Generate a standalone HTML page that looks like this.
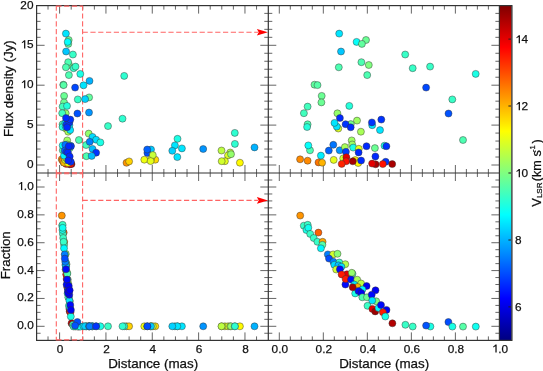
<!DOCTYPE html>
<html><head><meta charset="utf-8"><title>Maser spots</title>
<style>html,body{margin:0;padding:0;background:#fff;}svg{display:block;will-change:transform;}</style>
</head><body>
<svg width="543" height="371" viewBox="0 0 543 371">
<rect width="543" height="371" fill="#fff"/>
<defs><linearGradient id="jet" x1="0" y1="0" x2="0" y2="1"><stop offset="0.0000" stop-color="#800000"/><stop offset="0.0250" stop-color="#990000"/><stop offset="0.0500" stop-color="#b30000"/><stop offset="0.0750" stop-color="#cc0000"/><stop offset="0.1000" stop-color="#e50000"/><stop offset="0.1250" stop-color="#ff0000"/><stop offset="0.1500" stop-color="#ff1a00"/><stop offset="0.1750" stop-color="#ff3300"/><stop offset="0.2000" stop-color="#ff4c00"/><stop offset="0.2250" stop-color="#ff6600"/><stop offset="0.2500" stop-color="#ff8000"/><stop offset="0.2750" stop-color="#ff9900"/><stop offset="0.3000" stop-color="#ffb300"/><stop offset="0.3250" stop-color="#ffcc00"/><stop offset="0.3500" stop-color="#ffe500"/><stop offset="0.3750" stop-color="#ffff00"/><stop offset="0.4000" stop-color="#e5ff1a"/><stop offset="0.4250" stop-color="#ccff33"/><stop offset="0.4500" stop-color="#b3ff4c"/><stop offset="0.4750" stop-color="#99ff66"/><stop offset="0.5000" stop-color="#80ff80"/><stop offset="0.5250" stop-color="#66ff99"/><stop offset="0.5500" stop-color="#4dffb2"/><stop offset="0.5750" stop-color="#33ffcc"/><stop offset="0.6000" stop-color="#1affe5"/><stop offset="0.6250" stop-color="#00ffff"/><stop offset="0.6500" stop-color="#00e5ff"/><stop offset="0.6750" stop-color="#00ccff"/><stop offset="0.7000" stop-color="#00b2ff"/><stop offset="0.7250" stop-color="#0099ff"/><stop offset="0.7500" stop-color="#0080ff"/><stop offset="0.7750" stop-color="#0066ff"/><stop offset="0.8000" stop-color="#004dff"/><stop offset="0.8250" stop-color="#0033ff"/><stop offset="0.8500" stop-color="#001aff"/><stop offset="0.8750" stop-color="#0000ff"/><stop offset="0.9000" stop-color="#0000e6"/><stop offset="0.9250" stop-color="#0000cc"/><stop offset="0.9500" stop-color="#0000b2"/><stop offset="0.9750" stop-color="#000099"/><stop offset="1.0000" stop-color="#000080"/></linearGradient><clipPath id="cTL"><rect x="36.6" y="5.6" width="231.7" height="167.4"/></clipPath><clipPath id="cTR"><rect x="268.3" y="5.6" width="231.1" height="167.4"/></clipPath><clipPath id="cBL"><rect x="36.6" y="173.0" width="231.7" height="167.4"/></clipPath><clipPath id="cBR"><rect x="268.3" y="173.0" width="231.1" height="167.4"/></clipPath></defs>
<g stroke="#666" stroke-width="1"><line x1="48.02" y1="5.60" x2="48.02" y2="9.60"/><line x1="48.02" y1="173.00" x2="48.02" y2="169.00"/><line x1="48.02" y1="173.00" x2="48.02" y2="177.00"/><line x1="48.02" y1="340.40" x2="48.02" y2="336.40"/><line x1="59.60" y1="5.60" x2="59.60" y2="13.60"/><line x1="59.60" y1="173.00" x2="59.60" y2="165.00"/><line x1="59.60" y1="173.00" x2="59.60" y2="181.00"/><line x1="59.60" y1="340.40" x2="59.60" y2="332.40"/><line x1="71.19" y1="5.60" x2="71.19" y2="9.60"/><line x1="71.19" y1="173.00" x2="71.19" y2="169.00"/><line x1="71.19" y1="173.00" x2="71.19" y2="177.00"/><line x1="71.19" y1="340.40" x2="71.19" y2="336.40"/><line x1="82.77" y1="5.60" x2="82.77" y2="9.60"/><line x1="82.77" y1="173.00" x2="82.77" y2="169.00"/><line x1="82.77" y1="173.00" x2="82.77" y2="177.00"/><line x1="82.77" y1="340.40" x2="82.77" y2="336.40"/><line x1="94.36" y1="5.60" x2="94.36" y2="9.60"/><line x1="94.36" y1="173.00" x2="94.36" y2="169.00"/><line x1="94.36" y1="173.00" x2="94.36" y2="177.00"/><line x1="94.36" y1="340.40" x2="94.36" y2="336.40"/><line x1="105.94" y1="5.60" x2="105.94" y2="13.60"/><line x1="105.94" y1="173.00" x2="105.94" y2="165.00"/><line x1="105.94" y1="173.00" x2="105.94" y2="181.00"/><line x1="105.94" y1="340.40" x2="105.94" y2="332.40"/><line x1="117.53" y1="5.60" x2="117.53" y2="9.60"/><line x1="117.53" y1="173.00" x2="117.53" y2="169.00"/><line x1="117.53" y1="173.00" x2="117.53" y2="177.00"/><line x1="117.53" y1="340.40" x2="117.53" y2="336.40"/><line x1="129.11" y1="5.60" x2="129.11" y2="9.60"/><line x1="129.11" y1="173.00" x2="129.11" y2="169.00"/><line x1="129.11" y1="173.00" x2="129.11" y2="177.00"/><line x1="129.11" y1="340.40" x2="129.11" y2="336.40"/><line x1="140.69" y1="5.60" x2="140.69" y2="9.60"/><line x1="140.69" y1="173.00" x2="140.69" y2="169.00"/><line x1="140.69" y1="173.00" x2="140.69" y2="177.00"/><line x1="140.69" y1="340.40" x2="140.69" y2="336.40"/><line x1="152.28" y1="5.60" x2="152.28" y2="13.60"/><line x1="152.28" y1="173.00" x2="152.28" y2="165.00"/><line x1="152.28" y1="173.00" x2="152.28" y2="181.00"/><line x1="152.28" y1="340.40" x2="152.28" y2="332.40"/><line x1="163.87" y1="5.60" x2="163.87" y2="9.60"/><line x1="163.87" y1="173.00" x2="163.87" y2="169.00"/><line x1="163.87" y1="173.00" x2="163.87" y2="177.00"/><line x1="163.87" y1="340.40" x2="163.87" y2="336.40"/><line x1="175.45" y1="5.60" x2="175.45" y2="9.60"/><line x1="175.45" y1="173.00" x2="175.45" y2="169.00"/><line x1="175.45" y1="173.00" x2="175.45" y2="177.00"/><line x1="175.45" y1="340.40" x2="175.45" y2="336.40"/><line x1="187.03" y1="5.60" x2="187.03" y2="9.60"/><line x1="187.03" y1="173.00" x2="187.03" y2="169.00"/><line x1="187.03" y1="173.00" x2="187.03" y2="177.00"/><line x1="187.03" y1="340.40" x2="187.03" y2="336.40"/><line x1="198.62" y1="5.60" x2="198.62" y2="13.60"/><line x1="198.62" y1="173.00" x2="198.62" y2="165.00"/><line x1="198.62" y1="173.00" x2="198.62" y2="181.00"/><line x1="198.62" y1="340.40" x2="198.62" y2="332.40"/><line x1="210.21" y1="5.60" x2="210.21" y2="9.60"/><line x1="210.21" y1="173.00" x2="210.21" y2="169.00"/><line x1="210.21" y1="173.00" x2="210.21" y2="177.00"/><line x1="210.21" y1="340.40" x2="210.21" y2="336.40"/><line x1="221.79" y1="5.60" x2="221.79" y2="9.60"/><line x1="221.79" y1="173.00" x2="221.79" y2="169.00"/><line x1="221.79" y1="173.00" x2="221.79" y2="177.00"/><line x1="221.79" y1="340.40" x2="221.79" y2="336.40"/><line x1="233.38" y1="5.60" x2="233.38" y2="9.60"/><line x1="233.38" y1="173.00" x2="233.38" y2="169.00"/><line x1="233.38" y1="173.00" x2="233.38" y2="177.00"/><line x1="233.38" y1="340.40" x2="233.38" y2="336.40"/><line x1="244.96" y1="5.60" x2="244.96" y2="13.60"/><line x1="244.96" y1="173.00" x2="244.96" y2="165.00"/><line x1="244.96" y1="173.00" x2="244.96" y2="181.00"/><line x1="244.96" y1="340.40" x2="244.96" y2="332.40"/><line x1="256.55" y1="5.60" x2="256.55" y2="9.60"/><line x1="256.55" y1="173.00" x2="256.55" y2="169.00"/><line x1="256.55" y1="173.00" x2="256.55" y2="177.00"/><line x1="256.55" y1="340.40" x2="256.55" y2="336.40"/><line x1="279.30" y1="5.60" x2="279.30" y2="13.60"/><line x1="279.30" y1="173.00" x2="279.30" y2="165.00"/><line x1="279.30" y1="173.00" x2="279.30" y2="181.00"/><line x1="279.30" y1="340.40" x2="279.30" y2="332.40"/><line x1="290.31" y1="5.60" x2="290.31" y2="9.60"/><line x1="290.31" y1="173.00" x2="290.31" y2="169.00"/><line x1="290.31" y1="173.00" x2="290.31" y2="177.00"/><line x1="290.31" y1="340.40" x2="290.31" y2="336.40"/><line x1="301.31" y1="5.60" x2="301.31" y2="9.60"/><line x1="301.31" y1="173.00" x2="301.31" y2="169.00"/><line x1="301.31" y1="173.00" x2="301.31" y2="177.00"/><line x1="301.31" y1="340.40" x2="301.31" y2="336.40"/><line x1="312.31" y1="5.60" x2="312.31" y2="9.60"/><line x1="312.31" y1="173.00" x2="312.31" y2="169.00"/><line x1="312.31" y1="173.00" x2="312.31" y2="177.00"/><line x1="312.31" y1="340.40" x2="312.31" y2="336.40"/><line x1="323.32" y1="5.60" x2="323.32" y2="13.60"/><line x1="323.32" y1="173.00" x2="323.32" y2="165.00"/><line x1="323.32" y1="173.00" x2="323.32" y2="181.00"/><line x1="323.32" y1="340.40" x2="323.32" y2="332.40"/><line x1="334.32" y1="5.60" x2="334.32" y2="9.60"/><line x1="334.32" y1="173.00" x2="334.32" y2="169.00"/><line x1="334.32" y1="173.00" x2="334.32" y2="177.00"/><line x1="334.32" y1="340.40" x2="334.32" y2="336.40"/><line x1="345.33" y1="5.60" x2="345.33" y2="9.60"/><line x1="345.33" y1="173.00" x2="345.33" y2="169.00"/><line x1="345.33" y1="173.00" x2="345.33" y2="177.00"/><line x1="345.33" y1="340.40" x2="345.33" y2="336.40"/><line x1="356.34" y1="5.60" x2="356.34" y2="9.60"/><line x1="356.34" y1="173.00" x2="356.34" y2="169.00"/><line x1="356.34" y1="173.00" x2="356.34" y2="177.00"/><line x1="356.34" y1="340.40" x2="356.34" y2="336.40"/><line x1="367.34" y1="5.60" x2="367.34" y2="13.60"/><line x1="367.34" y1="173.00" x2="367.34" y2="165.00"/><line x1="367.34" y1="173.00" x2="367.34" y2="181.00"/><line x1="367.34" y1="340.40" x2="367.34" y2="332.40"/><line x1="378.35" y1="5.60" x2="378.35" y2="9.60"/><line x1="378.35" y1="173.00" x2="378.35" y2="169.00"/><line x1="378.35" y1="173.00" x2="378.35" y2="177.00"/><line x1="378.35" y1="340.40" x2="378.35" y2="336.40"/><line x1="389.35" y1="5.60" x2="389.35" y2="9.60"/><line x1="389.35" y1="173.00" x2="389.35" y2="169.00"/><line x1="389.35" y1="173.00" x2="389.35" y2="177.00"/><line x1="389.35" y1="340.40" x2="389.35" y2="336.40"/><line x1="400.36" y1="5.60" x2="400.36" y2="9.60"/><line x1="400.36" y1="173.00" x2="400.36" y2="169.00"/><line x1="400.36" y1="173.00" x2="400.36" y2="177.00"/><line x1="400.36" y1="340.40" x2="400.36" y2="336.40"/><line x1="411.36" y1="5.60" x2="411.36" y2="13.60"/><line x1="411.36" y1="173.00" x2="411.36" y2="165.00"/><line x1="411.36" y1="173.00" x2="411.36" y2="181.00"/><line x1="411.36" y1="340.40" x2="411.36" y2="332.40"/><line x1="422.37" y1="5.60" x2="422.37" y2="9.60"/><line x1="422.37" y1="173.00" x2="422.37" y2="169.00"/><line x1="422.37" y1="173.00" x2="422.37" y2="177.00"/><line x1="422.37" y1="340.40" x2="422.37" y2="336.40"/><line x1="433.37" y1="5.60" x2="433.37" y2="9.60"/><line x1="433.37" y1="173.00" x2="433.37" y2="169.00"/><line x1="433.37" y1="173.00" x2="433.37" y2="177.00"/><line x1="433.37" y1="340.40" x2="433.37" y2="336.40"/><line x1="444.38" y1="5.60" x2="444.38" y2="9.60"/><line x1="444.38" y1="173.00" x2="444.38" y2="169.00"/><line x1="444.38" y1="173.00" x2="444.38" y2="177.00"/><line x1="444.38" y1="340.40" x2="444.38" y2="336.40"/><line x1="455.38" y1="5.60" x2="455.38" y2="13.60"/><line x1="455.38" y1="173.00" x2="455.38" y2="165.00"/><line x1="455.38" y1="173.00" x2="455.38" y2="181.00"/><line x1="455.38" y1="340.40" x2="455.38" y2="332.40"/><line x1="466.38" y1="5.60" x2="466.38" y2="9.60"/><line x1="466.38" y1="173.00" x2="466.38" y2="169.00"/><line x1="466.38" y1="173.00" x2="466.38" y2="177.00"/><line x1="466.38" y1="340.40" x2="466.38" y2="336.40"/><line x1="477.39" y1="5.60" x2="477.39" y2="9.60"/><line x1="477.39" y1="173.00" x2="477.39" y2="169.00"/><line x1="477.39" y1="173.00" x2="477.39" y2="177.00"/><line x1="477.39" y1="340.40" x2="477.39" y2="336.40"/><line x1="488.39" y1="5.60" x2="488.39" y2="9.60"/><line x1="488.39" y1="173.00" x2="488.39" y2="169.00"/><line x1="488.39" y1="173.00" x2="488.39" y2="177.00"/><line x1="488.39" y1="340.40" x2="488.39" y2="336.40"/><line x1="36.60" y1="165.00" x2="44.60" y2="165.00"/><line x1="268.30" y1="165.00" x2="260.30" y2="165.00"/><line x1="268.30" y1="165.00" x2="276.30" y2="165.00"/><line x1="499.40" y1="165.00" x2="491.40" y2="165.00"/><line x1="36.60" y1="157.02" x2="40.60" y2="157.02"/><line x1="268.30" y1="157.02" x2="264.30" y2="157.02"/><line x1="268.30" y1="157.02" x2="272.30" y2="157.02"/><line x1="499.40" y1="157.02" x2="495.40" y2="157.02"/><line x1="36.60" y1="149.04" x2="40.60" y2="149.04"/><line x1="268.30" y1="149.04" x2="264.30" y2="149.04"/><line x1="268.30" y1="149.04" x2="272.30" y2="149.04"/><line x1="499.40" y1="149.04" x2="495.40" y2="149.04"/><line x1="36.60" y1="141.06" x2="40.60" y2="141.06"/><line x1="268.30" y1="141.06" x2="264.30" y2="141.06"/><line x1="268.30" y1="141.06" x2="272.30" y2="141.06"/><line x1="499.40" y1="141.06" x2="495.40" y2="141.06"/><line x1="36.60" y1="133.08" x2="40.60" y2="133.08"/><line x1="268.30" y1="133.08" x2="264.30" y2="133.08"/><line x1="268.30" y1="133.08" x2="272.30" y2="133.08"/><line x1="499.40" y1="133.08" x2="495.40" y2="133.08"/><line x1="36.60" y1="125.10" x2="44.60" y2="125.10"/><line x1="268.30" y1="125.10" x2="260.30" y2="125.10"/><line x1="268.30" y1="125.10" x2="276.30" y2="125.10"/><line x1="499.40" y1="125.10" x2="491.40" y2="125.10"/><line x1="36.60" y1="117.12" x2="40.60" y2="117.12"/><line x1="268.30" y1="117.12" x2="264.30" y2="117.12"/><line x1="268.30" y1="117.12" x2="272.30" y2="117.12"/><line x1="499.40" y1="117.12" x2="495.40" y2="117.12"/><line x1="36.60" y1="109.14" x2="40.60" y2="109.14"/><line x1="268.30" y1="109.14" x2="264.30" y2="109.14"/><line x1="268.30" y1="109.14" x2="272.30" y2="109.14"/><line x1="499.40" y1="109.14" x2="495.40" y2="109.14"/><line x1="36.60" y1="101.16" x2="40.60" y2="101.16"/><line x1="268.30" y1="101.16" x2="264.30" y2="101.16"/><line x1="268.30" y1="101.16" x2="272.30" y2="101.16"/><line x1="499.40" y1="101.16" x2="495.40" y2="101.16"/><line x1="36.60" y1="93.18" x2="40.60" y2="93.18"/><line x1="268.30" y1="93.18" x2="264.30" y2="93.18"/><line x1="268.30" y1="93.18" x2="272.30" y2="93.18"/><line x1="499.40" y1="93.18" x2="495.40" y2="93.18"/><line x1="36.60" y1="85.20" x2="44.60" y2="85.20"/><line x1="268.30" y1="85.20" x2="260.30" y2="85.20"/><line x1="268.30" y1="85.20" x2="276.30" y2="85.20"/><line x1="499.40" y1="85.20" x2="491.40" y2="85.20"/><line x1="36.60" y1="77.22" x2="40.60" y2="77.22"/><line x1="268.30" y1="77.22" x2="264.30" y2="77.22"/><line x1="268.30" y1="77.22" x2="272.30" y2="77.22"/><line x1="499.40" y1="77.22" x2="495.40" y2="77.22"/><line x1="36.60" y1="69.24" x2="40.60" y2="69.24"/><line x1="268.30" y1="69.24" x2="264.30" y2="69.24"/><line x1="268.30" y1="69.24" x2="272.30" y2="69.24"/><line x1="499.40" y1="69.24" x2="495.40" y2="69.24"/><line x1="36.60" y1="61.26" x2="40.60" y2="61.26"/><line x1="268.30" y1="61.26" x2="264.30" y2="61.26"/><line x1="268.30" y1="61.26" x2="272.30" y2="61.26"/><line x1="499.40" y1="61.26" x2="495.40" y2="61.26"/><line x1="36.60" y1="53.28" x2="40.60" y2="53.28"/><line x1="268.30" y1="53.28" x2="264.30" y2="53.28"/><line x1="268.30" y1="53.28" x2="272.30" y2="53.28"/><line x1="499.40" y1="53.28" x2="495.40" y2="53.28"/><line x1="36.60" y1="45.30" x2="44.60" y2="45.30"/><line x1="268.30" y1="45.30" x2="260.30" y2="45.30"/><line x1="268.30" y1="45.30" x2="276.30" y2="45.30"/><line x1="499.40" y1="45.30" x2="491.40" y2="45.30"/><line x1="36.60" y1="37.32" x2="40.60" y2="37.32"/><line x1="268.30" y1="37.32" x2="264.30" y2="37.32"/><line x1="268.30" y1="37.32" x2="272.30" y2="37.32"/><line x1="499.40" y1="37.32" x2="495.40" y2="37.32"/><line x1="36.60" y1="29.34" x2="40.60" y2="29.34"/><line x1="268.30" y1="29.34" x2="264.30" y2="29.34"/><line x1="268.30" y1="29.34" x2="272.30" y2="29.34"/><line x1="499.40" y1="29.34" x2="495.40" y2="29.34"/><line x1="36.60" y1="21.36" x2="40.60" y2="21.36"/><line x1="268.30" y1="21.36" x2="264.30" y2="21.36"/><line x1="268.30" y1="21.36" x2="272.30" y2="21.36"/><line x1="499.40" y1="21.36" x2="495.40" y2="21.36"/><line x1="36.60" y1="13.38" x2="40.60" y2="13.38"/><line x1="268.30" y1="13.38" x2="264.30" y2="13.38"/><line x1="268.30" y1="13.38" x2="272.30" y2="13.38"/><line x1="499.40" y1="13.38" x2="495.40" y2="13.38"/><line x1="36.60" y1="333.26" x2="40.60" y2="333.26"/><line x1="268.30" y1="333.26" x2="264.30" y2="333.26"/><line x1="268.30" y1="333.26" x2="272.30" y2="333.26"/><line x1="499.40" y1="333.26" x2="495.40" y2="333.26"/><line x1="36.60" y1="326.30" x2="44.60" y2="326.30"/><line x1="268.30" y1="326.30" x2="260.30" y2="326.30"/><line x1="268.30" y1="326.30" x2="276.30" y2="326.30"/><line x1="499.40" y1="326.30" x2="491.40" y2="326.30"/><line x1="36.60" y1="319.34" x2="40.60" y2="319.34"/><line x1="268.30" y1="319.34" x2="264.30" y2="319.34"/><line x1="268.30" y1="319.34" x2="272.30" y2="319.34"/><line x1="499.40" y1="319.34" x2="495.40" y2="319.34"/><line x1="36.60" y1="312.37" x2="40.60" y2="312.37"/><line x1="268.30" y1="312.37" x2="264.30" y2="312.37"/><line x1="268.30" y1="312.37" x2="272.30" y2="312.37"/><line x1="499.40" y1="312.37" x2="495.40" y2="312.37"/><line x1="36.60" y1="305.41" x2="40.60" y2="305.41"/><line x1="268.30" y1="305.41" x2="264.30" y2="305.41"/><line x1="268.30" y1="305.41" x2="272.30" y2="305.41"/><line x1="499.40" y1="305.41" x2="495.40" y2="305.41"/><line x1="36.60" y1="298.44" x2="44.60" y2="298.44"/><line x1="268.30" y1="298.44" x2="260.30" y2="298.44"/><line x1="268.30" y1="298.44" x2="276.30" y2="298.44"/><line x1="499.40" y1="298.44" x2="491.40" y2="298.44"/><line x1="36.60" y1="291.48" x2="40.60" y2="291.48"/><line x1="268.30" y1="291.48" x2="264.30" y2="291.48"/><line x1="268.30" y1="291.48" x2="272.30" y2="291.48"/><line x1="499.40" y1="291.48" x2="495.40" y2="291.48"/><line x1="36.60" y1="284.51" x2="40.60" y2="284.51"/><line x1="268.30" y1="284.51" x2="264.30" y2="284.51"/><line x1="268.30" y1="284.51" x2="272.30" y2="284.51"/><line x1="499.40" y1="284.51" x2="495.40" y2="284.51"/><line x1="36.60" y1="277.55" x2="40.60" y2="277.55"/><line x1="268.30" y1="277.55" x2="264.30" y2="277.55"/><line x1="268.30" y1="277.55" x2="272.30" y2="277.55"/><line x1="499.40" y1="277.55" x2="495.40" y2="277.55"/><line x1="36.60" y1="270.58" x2="44.60" y2="270.58"/><line x1="268.30" y1="270.58" x2="260.30" y2="270.58"/><line x1="268.30" y1="270.58" x2="276.30" y2="270.58"/><line x1="499.40" y1="270.58" x2="491.40" y2="270.58"/><line x1="36.60" y1="263.62" x2="40.60" y2="263.62"/><line x1="268.30" y1="263.62" x2="264.30" y2="263.62"/><line x1="268.30" y1="263.62" x2="272.30" y2="263.62"/><line x1="499.40" y1="263.62" x2="495.40" y2="263.62"/><line x1="36.60" y1="256.65" x2="40.60" y2="256.65"/><line x1="268.30" y1="256.65" x2="264.30" y2="256.65"/><line x1="268.30" y1="256.65" x2="272.30" y2="256.65"/><line x1="499.40" y1="256.65" x2="495.40" y2="256.65"/><line x1="36.60" y1="249.69" x2="40.60" y2="249.69"/><line x1="268.30" y1="249.69" x2="264.30" y2="249.69"/><line x1="268.30" y1="249.69" x2="272.30" y2="249.69"/><line x1="499.40" y1="249.69" x2="495.40" y2="249.69"/><line x1="36.60" y1="242.72" x2="44.60" y2="242.72"/><line x1="268.30" y1="242.72" x2="260.30" y2="242.72"/><line x1="268.30" y1="242.72" x2="276.30" y2="242.72"/><line x1="499.40" y1="242.72" x2="491.40" y2="242.72"/><line x1="36.60" y1="235.75" x2="40.60" y2="235.75"/><line x1="268.30" y1="235.75" x2="264.30" y2="235.75"/><line x1="268.30" y1="235.75" x2="272.30" y2="235.75"/><line x1="499.40" y1="235.75" x2="495.40" y2="235.75"/><line x1="36.60" y1="228.79" x2="40.60" y2="228.79"/><line x1="268.30" y1="228.79" x2="264.30" y2="228.79"/><line x1="268.30" y1="228.79" x2="272.30" y2="228.79"/><line x1="499.40" y1="228.79" x2="495.40" y2="228.79"/><line x1="36.60" y1="221.82" x2="40.60" y2="221.82"/><line x1="268.30" y1="221.82" x2="264.30" y2="221.82"/><line x1="268.30" y1="221.82" x2="272.30" y2="221.82"/><line x1="499.40" y1="221.82" x2="495.40" y2="221.82"/><line x1="36.60" y1="214.86" x2="44.60" y2="214.86"/><line x1="268.30" y1="214.86" x2="260.30" y2="214.86"/><line x1="268.30" y1="214.86" x2="276.30" y2="214.86"/><line x1="499.40" y1="214.86" x2="491.40" y2="214.86"/><line x1="36.60" y1="207.89" x2="40.60" y2="207.89"/><line x1="268.30" y1="207.89" x2="264.30" y2="207.89"/><line x1="268.30" y1="207.89" x2="272.30" y2="207.89"/><line x1="499.40" y1="207.89" x2="495.40" y2="207.89"/><line x1="36.60" y1="200.93" x2="40.60" y2="200.93"/><line x1="268.30" y1="200.93" x2="264.30" y2="200.93"/><line x1="268.30" y1="200.93" x2="272.30" y2="200.93"/><line x1="499.40" y1="200.93" x2="495.40" y2="200.93"/><line x1="36.60" y1="193.97" x2="40.60" y2="193.97"/><line x1="268.30" y1="193.97" x2="264.30" y2="193.97"/><line x1="268.30" y1="193.97" x2="272.30" y2="193.97"/><line x1="499.40" y1="193.97" x2="495.40" y2="193.97"/><line x1="36.60" y1="187.00" x2="44.60" y2="187.00"/><line x1="268.30" y1="187.00" x2="260.30" y2="187.00"/><line x1="268.30" y1="187.00" x2="276.30" y2="187.00"/><line x1="499.40" y1="187.00" x2="491.40" y2="187.00"/><line x1="36.60" y1="180.03" x2="40.60" y2="180.03"/><line x1="268.30" y1="180.03" x2="264.30" y2="180.03"/><line x1="268.30" y1="180.03" x2="272.30" y2="180.03"/><line x1="499.40" y1="180.03" x2="495.40" y2="180.03"/></g>
<rect x="499.4" y="5.6" width="12.5" height="334.8" fill="url(#jet)"/><g stroke="#222" stroke-width="1"><line x1="508.4" y1="306.9" x2="511.0" y2="306.9"/><line x1="508.4" y1="240.0" x2="511.0" y2="240.0"/><line x1="508.4" y1="173.0" x2="511.0" y2="173.0"/><line x1="508.4" y1="106.0" x2="511.0" y2="106.0"/><line x1="508.4" y1="39.1" x2="511.0" y2="39.1"/></g><line x1="511.9" y1="5.6" x2="511.9" y2="340.4" stroke="#bbb" stroke-width="0.8"/>
<g stroke="#333" stroke-width="1.2" fill="none">
<rect x="36.6" y="5.6" width="475.3" height="334.8"/>
<line x1="268.3" y1="5.6" x2="268.3" y2="340.4"/>
<line x1="36.6" y1="173.0" x2="499.4" y2="173.0"/>
<line x1="499.4" y1="5.6" x2="499.4" y2="340.4"/>
</g>
<path d="M56.3,5.6 L56.3,173.0 M56.3,6.1 L82.6,6.1 M82.6,5.6 L82.6,173.0 M56.3,172.8 L82.6,172.8" stroke="#ff6464" stroke-width="1.1" stroke-dasharray="5.2,2.6" fill="none"/><path d="M56.3,173.0 L56.3,340.4 M82.6,173.0 L82.6,340.4 M56.3,339.9 L82.6,339.9 M56.3,173.8 L82.6,173.8" stroke="#ff6464" stroke-width="1.1" stroke-dasharray="5.2,2.6" fill="none"/><path d="M82.6,32.3 L258,32.3" stroke="#ff6464" stroke-width="1.1" stroke-dasharray="5.2,2.6" fill="none"/><path d="M82.6,200.4 L258,200.4" stroke="#ff6464" stroke-width="1.1" stroke-dasharray="5.2,2.6" fill="none"/><path d="M256.9,29.0 L267.9,32.3 L256.9,35.6 L258.7,32.3 Z" fill="#ff0000"/><path d="M256.9,197.1 L267.9,200.4 L256.9,203.7 L258.7,200.4 Z" fill="#ff0000"/>
<g clip-path="url(#cTL)" stroke="#333" stroke-opacity="0.75" stroke-width="0.6"><circle cx="67.3" cy="161.3" r="3.50" fill="#a80000"/><circle cx="69.7" cy="164.3" r="3.50" fill="#a80000"/><circle cx="71.5" cy="164.1" r="3.50" fill="#a80000"/><circle cx="66.7" cy="157.2" r="3.50" fill="#e50000"/><circle cx="69.4" cy="163.6" r="3.50" fill="#e50000"/><circle cx="66.6" cy="161.3" r="3.50" fill="#ff0f00"/><circle cx="70.5" cy="164.1" r="3.50" fill="#ff0f00"/><circle cx="66.2" cy="163.9" r="3.50" fill="#ff2400"/><circle cx="63.7" cy="162.4" r="3.50" fill="#ff7500"/><circle cx="61.8" cy="159.3" r="3.50" fill="#ff8a00"/><circle cx="62.6" cy="160.7" r="3.50" fill="#ff8a00"/><circle cx="64.1" cy="162.7" r="3.50" fill="#ffb300"/><circle cx="67.6" cy="160.1" r="3.50" fill="#fff000"/><circle cx="67.9" cy="163.0" r="3.50" fill="#fffa00"/><circle cx="68.0" cy="148.8" r="3.50" fill="#e5ff1a"/><circle cx="65.3" cy="159.9" r="3.50" fill="#e5ff1a"/><circle cx="65.8" cy="128.5" r="3.50" fill="#dbff24"/><circle cx="66.3" cy="158.4" r="3.50" fill="#d1ff2e"/><circle cx="68.2" cy="131.7" r="3.50" fill="#a8ff57"/><circle cx="66.5" cy="147.1" r="3.50" fill="#a8ff57"/><circle cx="67.8" cy="120.6" r="3.50" fill="#9eff61"/><circle cx="67.2" cy="140.4" r="3.50" fill="#9eff61"/><circle cx="67.3" cy="144.5" r="3.50" fill="#9eff61"/><circle cx="65.7" cy="113.3" r="3.50" fill="#94ff6b"/><circle cx="69.0" cy="65.0" r="3.50" fill="#80ff80"/><circle cx="67.1" cy="124.1" r="3.50" fill="#75ff8a"/><circle cx="68.7" cy="40.0" r="3.50" fill="#6bff94"/><circle cx="64.1" cy="95.9" r="3.50" fill="#6bff94"/><circle cx="64.0" cy="102.4" r="3.50" fill="#6bff94"/><circle cx="69.7" cy="148.1" r="3.50" fill="#6bff94"/><circle cx="68.3" cy="43.9" r="3.50" fill="#61ff9e"/><circle cx="63.3" cy="84.7" r="3.50" fill="#61ff9e"/><circle cx="63.6" cy="85.1" r="3.50" fill="#57ffa8"/><circle cx="68.2" cy="62.2" r="3.50" fill="#4dffb2"/><circle cx="65.9" cy="67.3" r="3.50" fill="#4dffb2"/><circle cx="68.9" cy="75.1" r="3.50" fill="#4dffb2"/><circle cx="78.9" cy="140.0" r="3.50" fill="#4dffb2"/><circle cx="62.6" cy="124.3" r="3.50" fill="#4dffb2"/><circle cx="62.8" cy="150.3" r="3.50" fill="#4dffb2"/><circle cx="62.6" cy="106.6" r="3.50" fill="#42ffbd"/><circle cx="62.2" cy="113.2" r="3.50" fill="#42ffbd"/><circle cx="72.9" cy="54.5" r="3.50" fill="#38ffc7"/><circle cx="73.6" cy="68.2" r="3.50" fill="#38ffc7"/><circle cx="75.5" cy="66.6" r="3.50" fill="#38ffc7"/><circle cx="77.8" cy="99.4" r="3.50" fill="#38ffc7"/><circle cx="67.0" cy="105.9" r="3.50" fill="#24ffdb"/><circle cx="62.5" cy="127.0" r="3.50" fill="#24ffdb"/><circle cx="80.3" cy="73.9" r="3.50" fill="#1affe5"/><circle cx="67.4" cy="147.6" r="3.50" fill="#1affe5"/><circle cx="70.7" cy="145.7" r="3.50" fill="#1affe5"/><circle cx="67.7" cy="41.9" r="3.50" fill="#05fffa"/><circle cx="62.7" cy="145.4" r="3.50" fill="#05fffa"/><circle cx="64.0" cy="155.6" r="3.50" fill="#00f0ff"/><circle cx="65.9" cy="33.6" r="3.50" fill="#00e5ff"/><circle cx="65.7" cy="126.6" r="3.50" fill="#00e5ff"/><circle cx="65.4" cy="122.9" r="3.50" fill="#00e5ff"/><circle cx="69.4" cy="125.2" r="3.50" fill="#00e5ff"/><circle cx="70.2" cy="130.1" r="3.50" fill="#00e5ff"/><circle cx="66.1" cy="51.5" r="3.50" fill="#00c7ff"/><circle cx="66.0" cy="150.3" r="3.50" fill="#0094ff"/><circle cx="65.3" cy="144.8" r="3.50" fill="#0075ff"/><circle cx="64.8" cy="150.6" r="3.50" fill="#0061ff"/><circle cx="77.4" cy="113.5" r="3.50" fill="#0052ff"/><circle cx="75.1" cy="87.6" r="3.50" fill="#0047ff"/><circle cx="66.6" cy="151.8" r="3.50" fill="#003dff"/><circle cx="66.6" cy="124.2" r="3.50" fill="#0033ff"/><circle cx="69.3" cy="122.4" r="3.50" fill="#0033ff"/><circle cx="70.3" cy="119.6" r="3.50" fill="#0033ff"/><circle cx="70.9" cy="146.2" r="3.50" fill="#0033ff"/><circle cx="70.8" cy="161.8" r="3.50" fill="#0033ff"/><circle cx="66.0" cy="118.0" r="3.50" fill="#0029ff"/><circle cx="67.1" cy="127.3" r="3.50" fill="#0029ff"/><circle cx="67.9" cy="152.4" r="3.50" fill="#0029ff"/><circle cx="68.8" cy="146.2" r="3.50" fill="#0029ff"/><circle cx="69.7" cy="156.4" r="3.50" fill="#0029ff"/><circle cx="68.2" cy="160.5" r="3.50" fill="#0029ff"/><circle cx="124.2" cy="75.9" r="3.50" fill="#2effd1"/><circle cx="89.5" cy="80.9" r="3.50" fill="#00b2ff"/><circle cx="83.5" cy="85.3" r="3.50" fill="#00e5ff"/><circle cx="89.1" cy="97.4" r="3.50" fill="#61ff9e"/><circle cx="85.1" cy="99.1" r="3.50" fill="#00d1ff"/><circle cx="89.0" cy="112.5" r="3.50" fill="#0094ff"/><circle cx="108.0" cy="126.1" r="3.50" fill="#38ffc7"/><circle cx="122.5" cy="118.7" r="3.50" fill="#2effd1"/><circle cx="88.7" cy="133.6" r="3.50" fill="#94ff6b"/><circle cx="92.5" cy="136.9" r="3.50" fill="#00dbff"/><circle cx="96.1" cy="139.7" r="3.50" fill="#00dbff"/><circle cx="100.4" cy="142.4" r="3.50" fill="#1affe5"/><circle cx="86.1" cy="145.0" r="3.50" fill="#42ffbd"/><circle cx="89.7" cy="141.8" r="3.50" fill="#0080ff"/><circle cx="86.4" cy="156.2" r="3.50" fill="#4dffb2"/><circle cx="92.5" cy="148.9" r="3.50" fill="#00bdff"/><circle cx="96.1" cy="152.7" r="3.50" fill="#0033ff"/><circle cx="91.7" cy="155.9" r="3.50" fill="#00bdff"/><circle cx="126.5" cy="162.8" r="3.50" fill="#ff9400"/><circle cx="129.1" cy="161.4" r="3.50" fill="#ffd100"/><circle cx="151.0" cy="149.5" r="3.50" fill="#00c7ff"/><circle cx="147.4" cy="152.9" r="3.50" fill="#004dff"/><circle cx="147.2" cy="149.5" r="3.50" fill="#0061ff"/><circle cx="155.3" cy="159.7" r="3.50" fill="#ffdb00"/><circle cx="151.0" cy="159.0" r="3.50" fill="#e5ff1a"/><circle cx="152.8" cy="155.1" r="3.50" fill="#c7ff38"/><circle cx="144.3" cy="159.7" r="3.50" fill="#f0ff0f"/><circle cx="150.6" cy="161.1" r="3.50" fill="#e5ff1a"/><circle cx="177.5" cy="138.8" r="3.50" fill="#1affe5"/><circle cx="174.9" cy="145.4" r="3.50" fill="#00e5ff"/><circle cx="181.9" cy="148.4" r="3.50" fill="#00e5ff"/><circle cx="172.3" cy="150.8" r="3.50" fill="#00d1ff"/><circle cx="177.3" cy="157.1" r="3.50" fill="#00e5ff"/><circle cx="203.2" cy="149.0" r="3.50" fill="#0094ff"/><circle cx="234.8" cy="132.9" r="3.50" fill="#2effd1"/><circle cx="254.5" cy="147.4" r="3.50" fill="#00b2ff"/><circle cx="221.5" cy="150.5" r="3.50" fill="#bdff42"/><circle cx="230.2" cy="152.5" r="3.50" fill="#bdff42"/><circle cx="228.0" cy="155.4" r="3.50" fill="#dbff24"/><circle cx="231.0" cy="154.2" r="3.50" fill="#94ff6b"/><circle cx="224.9" cy="161.2" r="3.50" fill="#e5ff1a"/><circle cx="221.7" cy="161.2" r="3.50" fill="#d1ff2e"/><circle cx="234.9" cy="143.9" r="3.50" fill="#2effd1"/><circle cx="239.9" cy="162.7" r="3.50" fill="#fffa00"/></g>
<g clip-path="url(#cTR)" stroke="#333" stroke-opacity="0.75" stroke-width="0.6"><circle cx="339.2" cy="33.6" r="3.50" fill="#00e5ff"/><circle cx="356.6" cy="41.9" r="3.50" fill="#05fffa"/><circle cx="366.0" cy="40.0" r="3.50" fill="#6bff94"/><circle cx="361.9" cy="43.9" r="3.50" fill="#61ff9e"/><circle cx="341.0" cy="51.5" r="3.50" fill="#00c7ff"/><circle cx="361.4" cy="62.2" r="3.50" fill="#4dffb2"/><circle cx="368.8" cy="65.0" r="3.50" fill="#80ff80"/><circle cx="338.8" cy="67.3" r="3.50" fill="#4dffb2"/><circle cx="367.2" cy="75.1" r="3.50" fill="#4dffb2"/><circle cx="314.5" cy="84.7" r="3.50" fill="#61ff9e"/><circle cx="317.5" cy="85.1" r="3.50" fill="#57ffa8"/><circle cx="405.2" cy="54.5" r="3.50" fill="#38ffc7"/><circle cx="412.7" cy="68.2" r="3.50" fill="#38ffc7"/><circle cx="430.1" cy="66.6" r="3.50" fill="#38ffc7"/><circle cx="475.7" cy="73.9" r="3.50" fill="#1affe5"/><circle cx="426.1" cy="87.6" r="3.50" fill="#0047ff"/><circle cx="452.3" cy="99.4" r="3.50" fill="#38ffc7"/><circle cx="448.5" cy="113.5" r="3.50" fill="#0052ff"/><circle cx="463.0" cy="140.0" r="3.50" fill="#4dffb2"/><circle cx="321.7" cy="95.9" r="3.50" fill="#6bff94"/><circle cx="321.4" cy="102.4" r="3.50" fill="#6bff94"/><circle cx="307.6" cy="106.6" r="3.50" fill="#42ffbd"/><circle cx="303.9" cy="113.2" r="3.50" fill="#42ffbd"/><circle cx="349.3" cy="105.9" r="3.50" fill="#24ffdb"/><circle cx="337.4" cy="113.3" r="3.50" fill="#94ff6b"/><circle cx="339.9" cy="118.0" r="3.50" fill="#0029ff"/><circle cx="357.0" cy="120.6" r="3.50" fill="#9eff61"/><circle cx="307.6" cy="124.3" r="3.50" fill="#4dffb2"/><circle cx="307.1" cy="127.0" r="3.50" fill="#24ffdb"/><circle cx="338.3" cy="128.5" r="3.50" fill="#dbff24"/><circle cx="336.8" cy="126.6" r="3.50" fill="#00e5ff"/><circle cx="334.5" cy="122.9" r="3.50" fill="#00e5ff"/><circle cx="350.8" cy="124.1" r="3.50" fill="#75ff8a"/><circle cx="345.6" cy="124.2" r="3.50" fill="#0033ff"/><circle cx="350.7" cy="127.3" r="3.50" fill="#0029ff"/><circle cx="372.2" cy="125.2" r="3.50" fill="#00e5ff"/><circle cx="371.9" cy="122.4" r="3.50" fill="#0033ff"/><circle cx="381.3" cy="119.6" r="3.50" fill="#0033ff"/><circle cx="380.0" cy="130.1" r="3.50" fill="#00e5ff"/><circle cx="360.9" cy="131.7" r="3.50" fill="#a8ff57"/><circle cx="310.0" cy="150.3" r="3.50" fill="#4dffb2"/><circle cx="308.3" cy="145.4" r="3.50" fill="#05fffa"/><circle cx="320.9" cy="155.6" r="3.50" fill="#00f0ff"/><circle cx="300.1" cy="159.3" r="3.50" fill="#ff8a00"/><circle cx="307.6" cy="160.7" r="3.50" fill="#ff8a00"/><circle cx="318.5" cy="162.4" r="3.50" fill="#ff7500"/><circle cx="322.1" cy="162.7" r="3.50" fill="#ffb300"/><circle cx="333.3" cy="144.8" r="3.50" fill="#0075ff"/><circle cx="328.8" cy="150.6" r="3.50" fill="#0061ff"/><circle cx="339.7" cy="150.3" r="3.50" fill="#0094ff"/><circle cx="344.9" cy="147.1" r="3.50" fill="#a8ff57"/><circle cx="345.9" cy="151.8" r="3.50" fill="#003dff"/><circle cx="351.7" cy="140.4" r="3.50" fill="#9eff61"/><circle cx="352.2" cy="144.5" r="3.50" fill="#9eff61"/><circle cx="353.2" cy="147.6" r="3.50" fill="#1affe5"/><circle cx="358.8" cy="148.8" r="3.50" fill="#e5ff1a"/><circle cx="358.6" cy="152.4" r="3.50" fill="#0029ff"/><circle cx="366.5" cy="146.2" r="3.50" fill="#0029ff"/><circle cx="374.9" cy="148.1" r="3.50" fill="#6bff94"/><circle cx="375.4" cy="156.4" r="3.50" fill="#0029ff"/><circle cx="333.7" cy="159.9" r="3.50" fill="#e5ff1a"/><circle cx="343.2" cy="158.4" r="3.50" fill="#d1ff2e"/><circle cx="346.4" cy="157.2" r="3.50" fill="#e50000"/><circle cx="346.1" cy="161.3" r="3.50" fill="#ff0f00"/><circle cx="341.7" cy="163.9" r="3.50" fill="#ff2400"/><circle cx="355.3" cy="160.1" r="3.50" fill="#fff000"/><circle cx="358.2" cy="163.0" r="3.50" fill="#fffa00"/><circle cx="352.8" cy="161.3" r="3.50" fill="#a80000"/><circle cx="361.1" cy="160.5" r="3.50" fill="#0029ff"/><circle cx="375.6" cy="164.3" r="3.50" fill="#a80000"/><circle cx="372.1" cy="163.6" r="3.50" fill="#e50000"/><circle cx="384.5" cy="145.7" r="3.50" fill="#1affe5"/><circle cx="386.4" cy="146.2" r="3.50" fill="#0033ff"/><circle cx="385.7" cy="161.8" r="3.50" fill="#0033ff"/><circle cx="382.8" cy="164.1" r="3.50" fill="#ff0f00"/><circle cx="392.2" cy="164.1" r="3.50" fill="#a80000"/></g>
<g clip-path="url(#cBL)" stroke="#333" stroke-opacity="0.75" stroke-width="0.6"><circle cx="69.7" cy="311.4" r="3.50" fill="#9e0000"/><circle cx="67.3" cy="287.3" r="3.50" fill="#a80000"/><circle cx="71.5" cy="323.3" r="3.50" fill="#b30000"/><circle cx="66.7" cy="274.3" r="3.50" fill="#e50000"/><circle cx="69.4" cy="308.9" r="3.50" fill="#e50000"/><circle cx="66.2" cy="274.4" r="3.50" fill="#ff1a00"/><circle cx="66.6" cy="279.0" r="3.50" fill="#ff1a00"/><circle cx="70.5" cy="312.2" r="3.50" fill="#ff1a00"/><circle cx="63.7" cy="232.6" r="3.50" fill="#ff6100"/><circle cx="61.8" cy="215.6" r="3.50" fill="#ff9400"/><circle cx="64.2" cy="241.8" r="3.50" fill="#ffa800"/><circle cx="67.8" cy="287.0" r="3.50" fill="#ffb300"/><circle cx="65.3" cy="254.4" r="3.50" fill="#d1ff2e"/><circle cx="65.6" cy="269.5" r="3.50" fill="#d1ff2e"/><circle cx="68.2" cy="283.5" r="3.50" fill="#bdff42"/><circle cx="66.5" cy="264.2" r="3.50" fill="#b3ff4c"/><circle cx="67.8" cy="279.7" r="3.50" fill="#a8ff57"/><circle cx="67.2" cy="272.8" r="3.50" fill="#94ff6b"/><circle cx="65.7" cy="253.8" r="3.50" fill="#8aff75"/><circle cx="69.8" cy="301.3" r="3.50" fill="#80ff80"/><circle cx="68.8" cy="297.3" r="3.50" fill="#6bff94"/><circle cx="64.1" cy="244.8" r="3.50" fill="#57ffa8"/><circle cx="78.9" cy="326.6" r="3.50" fill="#57ffa8"/><circle cx="67.3" cy="273.8" r="3.50" fill="#4dffb2"/><circle cx="68.3" cy="297.3" r="3.50" fill="#4dffb2"/><circle cx="62.2" cy="225.7" r="3.50" fill="#38ffc7"/><circle cx="62.6" cy="224.8" r="3.50" fill="#38ffc7"/><circle cx="62.9" cy="233.9" r="3.50" fill="#38ffc7"/><circle cx="63.2" cy="238.0" r="3.50" fill="#38ffc7"/><circle cx="63.6" cy="241.8" r="3.50" fill="#38ffc7"/><circle cx="68.9" cy="305.8" r="3.50" fill="#38ffc7"/><circle cx="72.9" cy="324.8" r="3.50" fill="#38ffc7"/><circle cx="73.6" cy="326.5" r="3.50" fill="#38ffc7"/><circle cx="65.9" cy="262.5" r="3.50" fill="#2effd1"/><circle cx="62.5" cy="230.0" r="3.50" fill="#1affe5"/><circle cx="67.6" cy="293.4" r="3.50" fill="#1affe5"/><circle cx="75.5" cy="326.5" r="3.50" fill="#1affe5"/><circle cx="77.8" cy="326.6" r="3.50" fill="#1affe5"/><circle cx="70.8" cy="316.5" r="3.50" fill="#1affe5"/><circle cx="62.7" cy="227.8" r="3.50" fill="#0ffff0"/><circle cx="80.3" cy="326.6" r="3.50" fill="#0ffff0"/><circle cx="64.0" cy="248.3" r="3.50" fill="#00faff"/><circle cx="68.3" cy="289.4" r="3.50" fill="#00faff"/><circle cx="70.0" cy="308.0" r="3.50" fill="#00faff"/><circle cx="67.5" cy="284.6" r="3.50" fill="#00e5ff"/><circle cx="69.4" cy="300.6" r="3.50" fill="#00e5ff"/><circle cx="65.4" cy="264.8" r="3.50" fill="#00dbff"/><circle cx="66.1" cy="266.7" r="3.50" fill="#00dbff"/><circle cx="65.8" cy="265.3" r="3.50" fill="#00bdff"/><circle cx="64.7" cy="254.4" r="3.50" fill="#0080ff"/><circle cx="65.3" cy="261.8" r="3.50" fill="#0080ff"/><circle cx="64.8" cy="258.6" r="3.50" fill="#004dff"/><circle cx="77.4" cy="322.0" r="3.50" fill="#004dff"/><circle cx="75.1" cy="325.6" r="3.50" fill="#0052ff"/><circle cx="66.0" cy="269.3" r="3.50" fill="#000aff"/><circle cx="66.6" cy="284.5" r="3.50" fill="#000aff"/><circle cx="67.1" cy="279.6" r="3.50" fill="#000aff"/><circle cx="67.9" cy="290.9" r="3.50" fill="#000aff"/><circle cx="69.3" cy="294.8" r="3.50" fill="#000aff"/><circle cx="70.3" cy="305.1" r="3.50" fill="#000aff"/><circle cx="68.8" cy="286.0" r="3.50" fill="#0000f5"/><circle cx="68.2" cy="293.0" r="3.50" fill="#0000f5"/><circle cx="69.7" cy="290.3" r="3.50" fill="#0000f5"/><circle cx="70.9" cy="309.9" r="3.50" fill="#0000f5"/><circle cx="126.5" cy="326.3" r="3.50" fill="#ff9400"/><circle cx="129.1" cy="326.3" r="3.50" fill="#ffd100"/><circle cx="155.3" cy="326.3" r="3.50" fill="#ffdb00"/><circle cx="239.9" cy="326.3" r="3.50" fill="#fffa00"/><circle cx="144.3" cy="326.3" r="3.50" fill="#f0ff0f"/><circle cx="151.0" cy="326.3" r="3.50" fill="#e5ff1a"/><circle cx="150.6" cy="326.3" r="3.50" fill="#e5ff1a"/><circle cx="224.9" cy="326.3" r="3.50" fill="#e5ff1a"/><circle cx="228.0" cy="326.3" r="3.50" fill="#dbff24"/><circle cx="221.7" cy="326.3" r="3.50" fill="#d1ff2e"/><circle cx="152.8" cy="326.3" r="3.50" fill="#c7ff38"/><circle cx="221.5" cy="326.3" r="3.50" fill="#bdff42"/><circle cx="230.2" cy="326.3" r="3.50" fill="#bdff42"/><circle cx="88.7" cy="326.3" r="3.50" fill="#94ff6b"/><circle cx="231.0" cy="326.3" r="3.50" fill="#94ff6b"/><circle cx="89.1" cy="326.3" r="3.50" fill="#61ff9e"/><circle cx="86.4" cy="326.3" r="3.50" fill="#4dffb2"/><circle cx="86.1" cy="326.3" r="3.50" fill="#42ffbd"/><circle cx="108.0" cy="326.3" r="3.50" fill="#38ffc7"/><circle cx="124.2" cy="326.3" r="3.50" fill="#2effd1"/><circle cx="122.5" cy="326.3" r="3.50" fill="#2effd1"/><circle cx="234.8" cy="326.3" r="3.50" fill="#2effd1"/><circle cx="234.9" cy="326.3" r="3.50" fill="#2effd1"/><circle cx="100.4" cy="326.3" r="3.50" fill="#1affe5"/><circle cx="177.5" cy="326.3" r="3.50" fill="#1affe5"/><circle cx="83.5" cy="326.3" r="3.50" fill="#00e5ff"/><circle cx="174.9" cy="326.3" r="3.50" fill="#00e5ff"/><circle cx="181.9" cy="326.3" r="3.50" fill="#00e5ff"/><circle cx="177.3" cy="326.3" r="3.50" fill="#00e5ff"/><circle cx="92.5" cy="326.3" r="3.50" fill="#00dbff"/><circle cx="96.1" cy="326.3" r="3.50" fill="#00dbff"/><circle cx="85.1" cy="326.3" r="3.50" fill="#00d1ff"/><circle cx="172.3" cy="326.3" r="3.50" fill="#00d1ff"/><circle cx="151.0" cy="326.3" r="3.50" fill="#00c7ff"/><circle cx="92.5" cy="326.3" r="3.50" fill="#00bdff"/><circle cx="91.7" cy="326.3" r="3.50" fill="#00bdff"/><circle cx="89.5" cy="326.3" r="3.50" fill="#00b2ff"/><circle cx="254.5" cy="326.3" r="3.50" fill="#00b2ff"/><circle cx="89.0" cy="326.3" r="3.50" fill="#0094ff"/><circle cx="203.2" cy="326.3" r="3.50" fill="#0094ff"/><circle cx="89.7" cy="326.3" r="3.50" fill="#0080ff"/><circle cx="147.2" cy="326.3" r="3.50" fill="#0061ff"/><circle cx="147.4" cy="326.3" r="3.50" fill="#004dff"/><circle cx="96.1" cy="326.3" r="3.50" fill="#0033ff"/></g>
<g clip-path="url(#cBR)" stroke="#333" stroke-opacity="0.75" stroke-width="0.6"><circle cx="300.2" cy="215.6" r="3.50" fill="#ff9400"/><circle cx="303.8" cy="225.7" r="3.50" fill="#38ffc7"/><circle cx="307.7" cy="224.8" r="3.50" fill="#38ffc7"/><circle cx="306.4" cy="230.0" r="3.50" fill="#1affe5"/><circle cx="308.3" cy="227.8" r="3.50" fill="#0ffff0"/><circle cx="310.2" cy="233.9" r="3.50" fill="#38ffc7"/><circle cx="318.4" cy="232.6" r="3.50" fill="#ff6100"/><circle cx="313.7" cy="238.0" r="3.50" fill="#38ffc7"/><circle cx="317.4" cy="241.8" r="3.50" fill="#38ffc7"/><circle cx="322.6" cy="241.8" r="3.50" fill="#ffa800"/><circle cx="322.4" cy="244.8" r="3.50" fill="#57ffa8"/><circle cx="320.9" cy="248.3" r="3.50" fill="#00faff"/><circle cx="327.8" cy="254.4" r="3.50" fill="#0080ff"/><circle cx="333.1" cy="254.4" r="3.50" fill="#d1ff2e"/><circle cx="337.5" cy="253.8" r="3.50" fill="#8aff75"/><circle cx="329.0" cy="258.6" r="3.50" fill="#004dff"/><circle cx="333.4" cy="261.8" r="3.50" fill="#0080ff"/><circle cx="339.3" cy="262.5" r="3.50" fill="#2effd1"/><circle cx="334.3" cy="264.8" r="3.50" fill="#00dbff"/><circle cx="338.4" cy="265.3" r="3.50" fill="#00bdff"/><circle cx="345.3" cy="264.2" r="3.50" fill="#b3ff4c"/><circle cx="341.4" cy="266.7" r="3.50" fill="#00dbff"/><circle cx="336.2" cy="269.5" r="3.50" fill="#d1ff2e"/><circle cx="339.9" cy="269.3" r="3.50" fill="#000aff"/><circle cx="346.9" cy="274.3" r="3.50" fill="#e50000"/><circle cx="341.6" cy="274.4" r="3.50" fill="#ff1a00"/><circle cx="352.5" cy="273.8" r="3.50" fill="#4dffb2"/><circle cx="351.8" cy="272.8" r="3.50" fill="#94ff6b"/><circle cx="345.4" cy="284.5" r="3.50" fill="#000aff"/><circle cx="345.6" cy="279.0" r="3.50" fill="#ff1a00"/><circle cx="351.0" cy="279.6" r="3.50" fill="#000aff"/><circle cx="357.2" cy="279.7" r="3.50" fill="#a8ff57"/><circle cx="361.1" cy="283.5" r="3.50" fill="#bdff42"/><circle cx="366.6" cy="286.0" r="3.50" fill="#0000f5"/><circle cx="354.3" cy="284.6" r="3.50" fill="#00e5ff"/><circle cx="357.6" cy="287.0" r="3.50" fill="#ffb300"/><circle cx="362.4" cy="289.4" r="3.50" fill="#00faff"/><circle cx="355.2" cy="293.4" r="3.50" fill="#1affe5"/><circle cx="352.7" cy="287.3" r="3.50" fill="#a80000"/><circle cx="358.5" cy="290.9" r="3.50" fill="#000aff"/><circle cx="361.3" cy="293.0" r="3.50" fill="#0000f5"/><circle cx="362.3" cy="297.3" r="3.50" fill="#4dffb2"/><circle cx="367.0" cy="297.3" r="3.50" fill="#6bff94"/><circle cx="375.5" cy="290.3" r="3.50" fill="#0000f5"/><circle cx="371.7" cy="294.8" r="3.50" fill="#000aff"/><circle cx="376.2" cy="301.3" r="3.50" fill="#80ff80"/><circle cx="372.2" cy="300.6" r="3.50" fill="#00e5ff"/><circle cx="367.5" cy="305.8" r="3.50" fill="#38ffc7"/><circle cx="372.4" cy="308.9" r="3.50" fill="#e50000"/><circle cx="375.2" cy="311.4" r="3.50" fill="#9e0000"/><circle cx="378.5" cy="308.0" r="3.50" fill="#00faff"/><circle cx="381.0" cy="305.1" r="3.50" fill="#000aff"/><circle cx="386.5" cy="309.9" r="3.50" fill="#0000f5"/><circle cx="382.9" cy="312.2" r="3.50" fill="#ff1a00"/><circle cx="385.3" cy="316.5" r="3.50" fill="#1affe5"/><circle cx="392.4" cy="323.3" r="3.50" fill="#b30000"/><circle cx="405.4" cy="324.8" r="3.50" fill="#38ffc7"/><circle cx="412.7" cy="326.5" r="3.50" fill="#38ffc7"/><circle cx="430.4" cy="326.5" r="3.50" fill="#1affe5"/><circle cx="426.1" cy="325.6" r="3.50" fill="#0052ff"/><circle cx="448.4" cy="322.0" r="3.50" fill="#004dff"/><circle cx="452.4" cy="326.6" r="3.50" fill="#1affe5"/><circle cx="463.0" cy="326.6" r="3.50" fill="#57ffa8"/><circle cx="475.8" cy="326.6" r="3.50" fill="#0ffff0"/></g>
<g fill="#111" stroke="#111" stroke-width="0.25" style="font-family:'Liberation Sans',sans-serif;"><text x="26.94" y="168.10" font-size="11.8">0</text><text x="26.94" y="128.20" font-size="11.8">5</text><path transform="translate(20.37,88.30) scale(0.00576,-0.00576)" d="M860,0 L640,0 L640,1110 L260,890 L260,1060 Q520,1200 660,1409 L860,1409 Z"/><text x="26.94" y="88.30" font-size="11.8">0</text><path transform="translate(20.37,48.40) scale(0.00576,-0.00576)" d="M860,0 L640,0 L640,1110 L260,890 L260,1060 Q520,1200 660,1409 L860,1409 Z"/><text x="26.94" y="48.40" font-size="11.8">5</text><text x="20.37" y="8.50" font-size="11.8">2</text><text x="26.94" y="8.50" font-size="11.8">0</text><text x="17.30" y="329.30" font-size="11.8">0</text><text x="23.86" y="329.30" font-size="11.8">.</text><text x="27.14" y="329.30" font-size="11.8">0</text><text x="17.30" y="301.44" font-size="11.8">0</text><text x="23.86" y="301.44" font-size="11.8">.</text><text x="27.14" y="301.44" font-size="11.8">2</text><text x="17.30" y="273.58" font-size="11.8">0</text><text x="23.86" y="273.58" font-size="11.8">.</text><text x="27.14" y="273.58" font-size="11.8">4</text><text x="17.30" y="245.72" font-size="11.8">0</text><text x="23.86" y="245.72" font-size="11.8">.</text><text x="27.14" y="245.72" font-size="11.8">6</text><text x="17.30" y="217.86" font-size="11.8">0</text><text x="23.86" y="217.86" font-size="11.8">.</text><text x="27.14" y="217.86" font-size="11.8">8</text><path transform="translate(17.30,190.00) scale(0.00576,-0.00576)" d="M860,0 L640,0 L640,1110 L260,890 L260,1060 Q520,1200 660,1409 L860,1409 Z"/><text x="23.86" y="190.00" font-size="11.8">.</text><text x="27.14" y="190.00" font-size="11.8">0</text><text x="56.82" y="352.60" font-size="11.8">0</text><text x="103.16" y="352.60" font-size="11.8">2</text><text x="149.50" y="352.60" font-size="11.8">4</text><text x="195.84" y="352.60" font-size="11.8">6</text><text x="242.18" y="352.60" font-size="11.8">8</text><text x="271.60" y="352.60" font-size="11.8">0</text><text x="278.16" y="352.60" font-size="11.8">.</text><text x="281.44" y="352.60" font-size="11.8">0</text><text x="315.62" y="352.60" font-size="11.8">0</text><text x="322.18" y="352.60" font-size="11.8">.</text><text x="325.46" y="352.60" font-size="11.8">2</text><text x="359.64" y="352.60" font-size="11.8">0</text><text x="366.20" y="352.60" font-size="11.8">.</text><text x="369.48" y="352.60" font-size="11.8">4</text><text x="403.66" y="352.60" font-size="11.8">0</text><text x="410.22" y="352.60" font-size="11.8">.</text><text x="413.50" y="352.60" font-size="11.8">6</text><text x="447.68" y="352.60" font-size="11.8">0</text><text x="454.24" y="352.60" font-size="11.8">.</text><text x="457.52" y="352.60" font-size="11.8">8</text><path transform="translate(491.70,352.60) scale(0.00576,-0.00576)" d="M860,0 L640,0 L640,1110 L260,890 L260,1060 Q520,1200 660,1409 L860,1409 Z"/><text x="498.26" y="352.60" font-size="11.8">.</text><text x="501.54" y="352.60" font-size="11.8">0</text><text x="515.00" y="311.12" font-size="11.8">6</text><text x="515.00" y="244.16" font-size="11.8">8</text><path transform="translate(515.00,177.20) scale(0.00576,-0.00576)" d="M860,0 L640,0 L640,1110 L260,890 L260,1060 Q520,1200 660,1409 L860,1409 Z"/><text x="521.56" y="177.20" font-size="11.8">0</text><path transform="translate(515.00,110.24) scale(0.00576,-0.00576)" d="M860,0 L640,0 L640,1110 L260,890 L260,1060 Q520,1200 660,1409 L860,1409 Z"/><text x="521.56" y="110.24" font-size="11.8">2</text><path transform="translate(515.00,43.28) scale(0.00576,-0.00576)" d="M860,0 L640,0 L640,1110 L260,890 L260,1060 Q520,1200 660,1409 L860,1409 Z"/><text x="521.56" y="43.28" font-size="11.8">4</text><text x="153.2" y="367.6" text-anchor="middle" font-size="13.4">Distance (mas)</text><text x="384.2" y="367.6" text-anchor="middle" font-size="13.4">Distance (mas)</text><text transform="translate(13.1,88.6) rotate(-90)" text-anchor="middle" font-size="13.3">Flux density (Jy)</text><text transform="translate(9.9,255.3) rotate(-90)" text-anchor="middle" font-size="13.3">Fraction</text><text transform="translate(540.9,206.7) rotate(-90)" font-size="13">V</text><text transform="translate(542.0,198.1) rotate(-90)" font-size="8">LSR</text><text transform="translate(540.9,181.2) rotate(-90)" font-size="12.7">(km s</text><text transform="translate(535.4,152.0) rotate(-90)" font-size="7.5">-1</text><text transform="translate(540.9,143.5) rotate(-90)" font-size="12.7">)</text></g>
</svg>
</body></html>
